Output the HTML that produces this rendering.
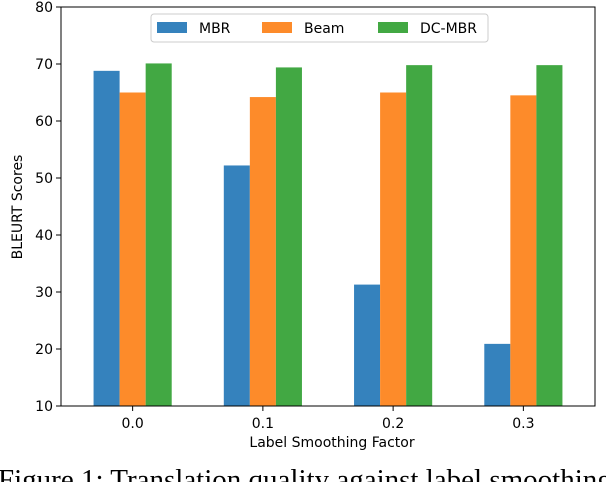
<!DOCTYPE html>
<html><head><meta charset="utf-8"><style>
body{margin:0;background:#fff;width:606px;height:482px;overflow:hidden;position:relative}
svg{position:absolute;left:0;top:0}
text{font-family:"DejaVu Sans","Liberation Sans",sans-serif;fill:#000}
</style></head><body>
<svg id="c" width="606" height="482"></svg>
<script>
const categories=["0.0","0.1","0.2","0.3"];
const mbrValues=[68.8,52.2,31.3,20.9];
const beamValues=[65.0,64.2,65.0,64.5];
const dcmbrValues=[70.1,69.4,69.8,69.8];
const yTicks=[10,20,30,40,50,60,70,80];
const seriesNames=["MBR","Beam","DC-MBR"];
const colors=["#3582bd","#fd8b2a","#42a843"];
const NS="http://www.w3.org/2000/svg";
const svg=document.getElementById('c');
const L=61,R=595,T=7,B=406,yMin=10,yMax=80;
const y=v=>B-(v-yMin)/(yMax-yMin)*(B-T);
const step=(R-L)/(categories.length+0.1);
const x=i=>L+step*(i+0.55);
const bw=step*0.2;
function el(t,a,txt){const e=document.createElementNS(NS,t);for(const k in a)e.setAttribute(k,a[k]);if(txt!==undefined)e.textContent=txt;svg.appendChild(e);return e;}
const all=[mbrValues,beamValues,dcmbrValues];
all.forEach((vals,s)=>{vals.forEach((v,i)=>{
 const b=el('rect',{x:x(i)+(s-1.5)*bw,y:y(v),width:bw,height:B-y(v),fill:colors[s]});
 
 
});});
const ax=el('rect',{x:L,y:T,width:R-L,height:B-T,fill:'none',stroke:'#000','stroke-width':1});


yTicks.forEach(v=>{
 el('line',{x1:L-5,x2:L,y1:y(v),y2:y(v),stroke:'#000'});
 const t=el('text',{x:L-8,y:y(v)+5,'text-anchor':'end','font-size':14},v);
 
 
});
categories.forEach((c,i)=>{
 el('line',{x1:x(i),x2:x(i),y1:B,y2:B+5,stroke:'#000'});
 const t=el('text',{x:x(i),y:B+22,'text-anchor':'middle','font-size':14},c);
 
 
});
const xl=el('text',{x:332,y:447,'text-anchor':'middle','font-size':14},'Label Smoothing Factor');


const yl=el('text',{x:0,y:0,'text-anchor':'middle','font-size':14,transform:'translate(22,207) rotate(-90)'},'BLEURT Scores');


const lg=el('rect',{x:151,y:14,width:337,height:28,rx:3,fill:'#fff',stroke:'#ccc'});


const lx=[157,262,378];
seriesNames.forEach((n,s)=>{
 el('rect',{x:lx[s],y:22,width:30,height:11,fill:colors[s]});
 const t=el('text',{x:lx[s]+42,y:33,'font-size':14},n);
 
 
});
const cap=el('text',{x:-2,y:489,'font-size':29,style:'font-family:"Liberation Serif",serif'},'Figure 1:  Translation quality against label smoothing');


</script>
</body></html>
